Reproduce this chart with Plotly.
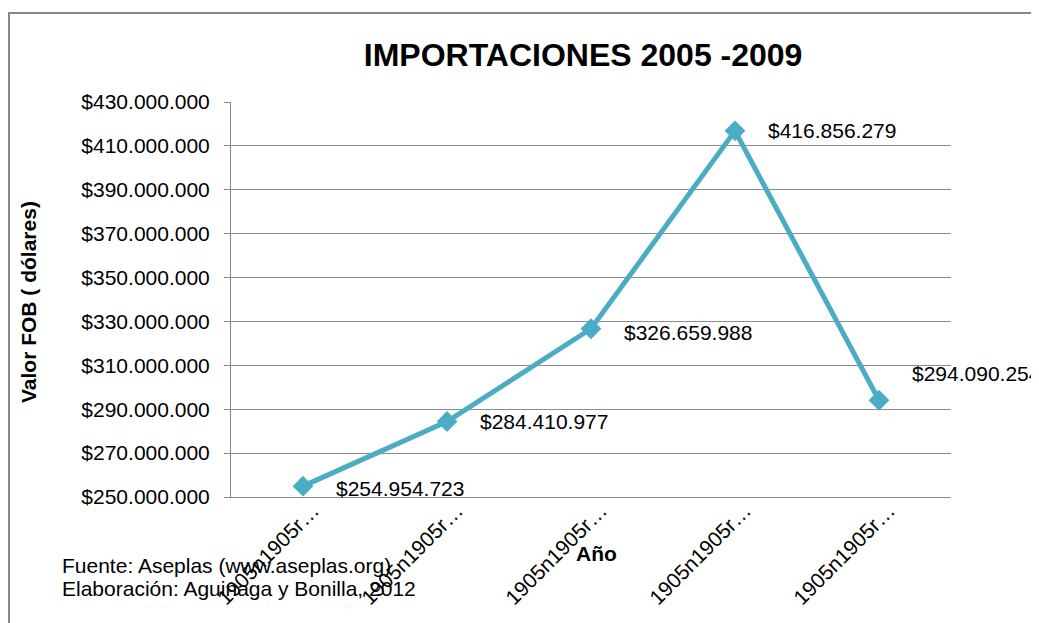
import plotly.graph_objects as go

# datos
anios = [0, 1, 2, 3, 4]
etiquetas_x = ["1905n1905r…"] * 5
valores = [254954723, 284410977, 326659988, 416856279, 294090254]
etiquetas_valor = ["$254.954.723", "$284.410.977", "$326.659.988", "$416.856.279", "$294.090.254"]
y_ticks = [250000000 + 20000000 * i for i in range(10)]
y_ticktext = ["$" + f"{v:,}".replace(",", ".") for v in y_ticks]
lineas_fuente = ["Fuente: Aseplas (www.aseplas.org)", "Elaboración: Aguinaga y Bonilla, 2012"]

color_linea = "#4BACC6"
fuente = "Liberation Sans, Arial, sans-serif"

fig = go.Figure()
fig.add_trace(go.Scatter(
    x=anios, y=valores, mode="lines+markers",
    line=dict(color=color_linea, width=5),
    marker=dict(symbol="diamond", size=16, color=color_linea),
    showlegend=False, hoverinfo="skip",
))

# etiquetas de datos a la derecha de cada punto
desplaz_y = [-2, 0, -4, 0, 27]
for xi, yi, txt, dy in zip(anios, valores, etiquetas_valor, desplaz_y):
    fig.add_annotation(x=xi, y=yi, text=txt, showarrow=False, xanchor="left",
                       xshift=31, yshift=dy, font=dict(size=21, color="#000"))

# la página añade 8px de margen, se compensa en tamaño y márgenes
fig.update_layout(
    width=1031, height=615,
    margin=dict(l=223, r=88, t=94, b=126, autoexpand=False),
    paper_bgcolor="white", plot_bgcolor="white",
    font=dict(family=fuente, size=21, color="#000"),
    title=dict(text="<b>IMPORTACIONES 2005 -2009</b>", x=0.489, xref="paper",
               xanchor="center", y=1 - 47 / 615, yanchor="middle",
               font=dict(size=32, color="#000")),
    xaxis=dict(range=[-0.5, 4.5], tickvals=anios, ticktext=etiquetas_x,
               tickangle=-45, showgrid=False, zeroline=False,
               showline=True, linecolor="#888", linewidth=1,
               ticks="", tickfont=dict(size=21), automargin=False,
               ticklabelshift=10, ticklabelstandoff=-8),
    yaxis=dict(range=[250000000, 430000000], tickvals=y_ticks, ticktext=y_ticktext,
               showgrid=True, gridcolor="#8c8c8c", gridwidth=1,
               zeroline=False, showline=True, linecolor="#888", linewidth=1,
               ticks="outside", ticklen=6, tickcolor="#888", automargin=False,
               ticklabelstandoff=10, tickfont=dict(size=21)),
)

# títulos de ejes
fig.add_annotation(text="<b>Valor FOB ( dólares)</b>", x=(28 - 231) / 720, y=(497 - 302) / 395,
                   xref="paper", yref="paper", xanchor="center", yanchor="middle",
                   textangle=-90, showarrow=False, font=dict(size=21))
fig.add_annotation(text="<b>Año</b>", x=(596 - 231) / 720, y=(497 - 553) / 395,
                   xref="paper", yref="paper", xanchor="center", yanchor="middle",
                   showarrow=False, font=dict(size=21))

# fuente
for i, linea in enumerate(lineas_fuente):
    fig.add_annotation(text=linea, x=(60 - 231) / 720, y=(497 - (565 + 23 * i)) / 395,
                       xref="paper", yref="paper", xanchor="left", yanchor="middle",
                       showarrow=False, font=dict(size=21))

# borde exterior del gráfico
fig.add_shape(type="rect", xref="paper", yref="paper",
              x0=(9 - 231) / 720, x1=(1060 - 231) / 720,
              y0=(497 - 660) / 395, y1=(497 - 13) / 395,
              line=dict(color="#888", width=2), layer="below")

fig.write_html("out.html")
